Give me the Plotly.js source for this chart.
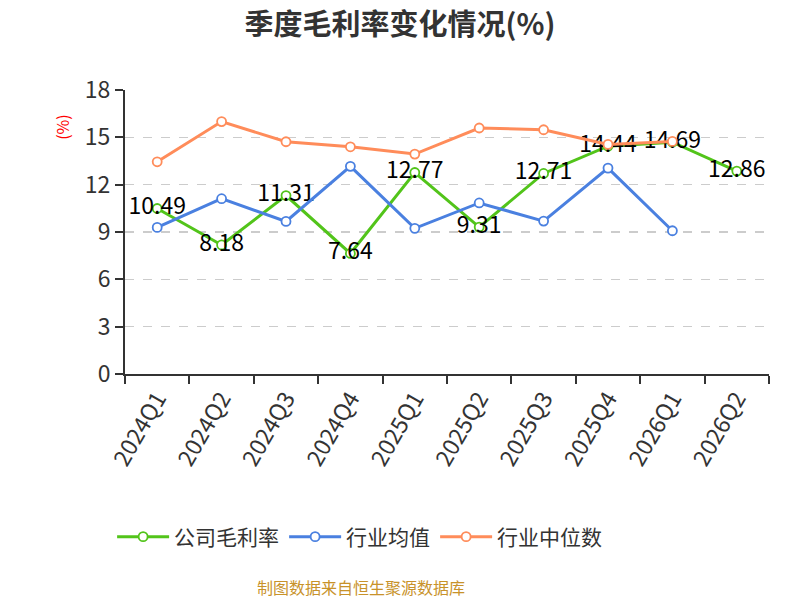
<!DOCTYPE html>
<html>
<head>
<meta charset="utf-8">
<script src="https://cdn.plot.ly/plotly-3.0.1.min.js"></script>
<style>html,body{margin:0;padding:0;background:#fff}#chart{width:800px;height:600px}</style>
</head>
<body>
<div id="chart"></div>
<script>
const categories = ["2024Q1","2024Q2","2024Q3","2024Q4","2025Q1","2025Q2","2025Q3","2025Q4","2026Q1","2026Q2"];
const companyMargin = [10.49, 8.18, 11.31, 7.64, 12.77, 9.31, 12.71, 14.44, 14.69, 12.86];
const industryAvg = [9.29, 11.11, 9.67, 13.16, 9.23, 10.84, 9.69, 13.05, 9.08];
const industryMedian = [13.45, 16.0, 14.72, 14.4, 13.94, 15.59, 15.48, 14.55, 14.74];
const yTicks = [0, 3, 6, 9, 12, 15, 18];

const FONT = '"Noto Sans CJK SC", "Noto Sans", sans-serif';

function lineTrace(name, y, color, withText) {
  const t = {
    type: 'scatter',
    mode: withText ? 'lines+markers+text' : 'lines+markers',
    name: name,
    x: categories.slice(0, y.length),
    y: y,
    line: {color: color, width: 3},
    marker: {symbol: 'circle', size: 9, color: '#ffffff', line: {color: color, width: 1.8}},
    cliponaxis: false,
    hoverinfo: 'skip'
  };
  if (withText) {
    t.text = y.map(v => v.toFixed(2));
    t.textposition = 'middle center';
    t.textfont = {family: FONT, size: 23, color: '#000000'};
  }
  return t;
}

const data = [
  lineTrace('公司毛利率', companyMargin, '#52c41a', true),
  lineTrace('行业均值', industryAvg, '#4a80e0', false),
  lineTrace('行业中位数', industryMedian, '#ff8c5a', false)
];

const layout = {
  width: 800, height: 600,
  margin: {l: 125, r: 31, t: 90, b: 226},
  paper_bgcolor: '#ffffff', plot_bgcolor: '#ffffff',
  font: {family: FONT, color: '#333333'},
  title: {text: '<b>季度毛利率变化情况(%)</b>', font: {family: FONT, size: 29, color: '#333333'},
          x: 0.5, xanchor: 'center', y: 0.958, yanchor: 'middle', yref: 'container'},
  xaxis: {
    type: 'category', categoryorder: 'array', categoryarray: categories,
    range: [-0.5, categories.length - 0.5],
    tickson: 'boundaries', ticks: 'outside', ticklen: 8, tickwidth: 2, tickcolor: '#333333',
    showline: true, linecolor: '#333333', linewidth: 2,
    showgrid: false, zeroline: false,
    tickangle: -60, tickfont: {family: FONT, size: 23, color: '#333333'}
  },
  yaxis: {
    range: [0, 18], tickvals: yTicks, ticktext: yTicks.map(String),
    ticks: 'outside', ticklen: 8, tickwidth: 2, tickcolor: '#333333',
    showline: true, linecolor: '#333333', linewidth: 2,
    showgrid: true, gridcolor: '#cccccc', griddash: 'dash', gridwidth: 1.5,
    zeroline: false,
    tickfont: {family: FONT, size: 23, color: '#333333'}
  },
  showlegend: true,
  legend: {orientation: 'h', x: -0.02, xanchor: 'left', y: -0.574, yanchor: 'middle',
           font: {family: FONT, size: 21, color: '#333333'}, traceorder: 'normal',
           itemwidth: 52},
  annotations: [
    {text: '(%)', xref: 'paper', yref: 'paper', x: -0.098, y: 0.87, textangle: -90,
     showarrow: false, font: {family: FONT, size: 16, color: '#ff0000'}, xanchor: 'center', yanchor: 'middle'},
    {text: '制图数据来自恒生聚源数据库', xref: 'paper', yref: 'paper', x: (361 - 125) / 644, y: -0.75,
     showarrow: false, font: {family: FONT, size: 16, color: '#c8922a'}, xanchor: 'center', yanchor: 'middle'}
  ]
};

Plotly.newPlot('chart', data, layout, {displayModeBar: false, staticPlot: true});
</script>
</body>
</html>
